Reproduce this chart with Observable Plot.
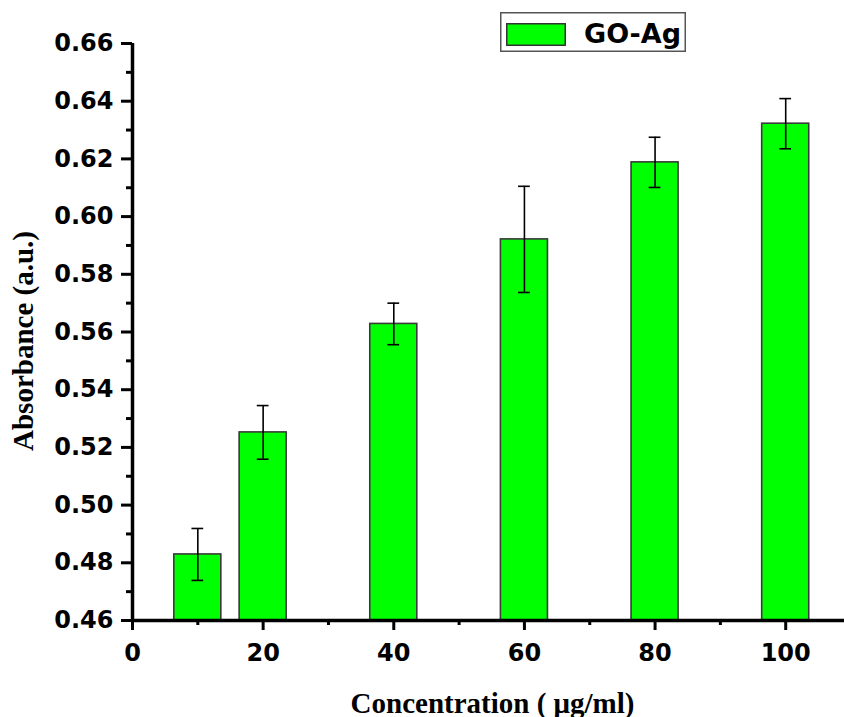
<!DOCTYPE html>
<html>
<head>
<meta charset="utf-8">
<script src="https://cdn.jsdelivr.net/npm/d3@7"></script>
<script src="https://cdn.jsdelivr.net/npm/@observablehq/plot@0.6"></script>
<style>
  body { margin: 0; background: #fff; }
  #chart { position: relative; width: 844px; height: 717px; }
  #legend { position: absolute; left: 0; top: 0; pointer-events: none; }
</style>
</head>
<body>
<div id="chart"></div>
<script>
// Absorbance of GO-Ag at each concentration (µg/ml), with error (±)
const concentrations = [10, 20, 40, 60, 80, 100];
const absorbance = [0.4829, 0.5252, 0.5628, 0.5921, 0.6188, 0.6322];
const errors = [0.0090, 0.0093, 0.0072, 0.0184, 0.0087, 0.0087];
const seriesName = "GO-Ag";

const xMajorTicks = [0, 20, 40, 60, 80, 100];
const xMinorTicks = [10, 30, 50, 70, 90];
const yMajorTicks = [0.46, 0.48, 0.50, 0.52, 0.54, 0.56, 0.58, 0.60, 0.62, 0.64, 0.66];
const yMinorTicks = [0.47, 0.49, 0.51, 0.53, 0.55, 0.57, 0.59, 0.61, 0.63, 0.65];

const yMin = 0.46, yMax = 0.66;
const barHalf = 3.6;   // half bar width, in concentration units
const capHalf = 0.9;   // half error-cap width

const data = concentrations.map((c, i) => ({c, v: absorbance[i], e: errors[i]}));

const green = "#00ff00";

const chart = Plot.plot({
  width: 844,
  height: 717,
  marginLeft: 132,
  marginRight: 0,
  marginTop: 43,
  marginBottom: 97,
  style: {fontFamily: "DejaVu Sans", fontWeight: "bold", fontSize: "24px", color: "#000", background: "#fff", overflow: "visible"},
  x: {domain: [0, 109], axis: null},
  y: {domain: [yMin, yMax], axis: null},
  marks: [
    Plot.rect(data, {
      x1: d => d.c - barHalf, x2: d => d.c + barHalf,
      y1: () => yMin, y2: "v",
      fill: green, stroke: "#3a3a3a", strokeWidth: 1.6
    }),
    Plot.ruleX(data, {x: "c", y1: d => d.v - d.e, y2: d => d.v + d.e, stroke: "#000", strokeWidth: 1.6}),
    Plot.ruleY(data, {y: d => d.v + d.e, x1: d => d.c - capHalf, x2: d => d.c + capHalf, stroke: "#000", strokeWidth: 1.6}),
    Plot.ruleY(data, {y: d => d.v - d.e, x1: d => d.c - capHalf, x2: d => d.c + capHalf, stroke: "#000", strokeWidth: 1.6}),
    // axes
    Plot.axisY({ticks: yMajorTicks, tickFormat: d3.format(".2f"), tickSize: 11, tickPadding: 8, strokeWidth: 3, label: null}),
    Plot.axisY({ticks: yMinorTicks, tickSize: 6, text: null, strokeWidth: 3, label: null}),
    Plot.axisX({ticks: xMajorTicks, tickFormat: d3.format("d"), tickSize: 10, tickPadding: 13, strokeWidth: 3, label: null}),
    Plot.axisX({ticks: xMinorTicks, tickSize: 5, text: null, strokeWidth: 3, label: null}),
    Plot.ruleX([0], {stroke: "#000", strokeWidth: 3.5}),
    Plot.ruleY([yMin], {stroke: "#000", strokeWidth: 3.5}),
    // axis titles
    Plot.text(["Concentration ( μg/ml)"], {
      frameAnchor: "bottom", dy: 92, dx: 4, text: d => d, textAnchor: "middle",
      fontFamily: "Liberation Serif", fontWeight: "bold", fontSize: 29, fill: "#000"
    }),
    Plot.text(["Absorbance (a.u.)"], {
      frameAnchor: "left", dx: -109, dy: 9, rotate: -90, text: d => d, textAnchor: "middle",
      fontFamily: "Liberation Serif", fontWeight: "bold", fontSize: 29, fill: "#000"
    })
  ]
});

const host = document.getElementById("chart");
host.appendChild(chart);

// Legend box
const ns = "http://www.w3.org/2000/svg";
const leg = document.createElementNS(ns, "svg");
leg.setAttribute("id", "legend");
leg.setAttribute("width", 844);
leg.setAttribute("height", 717);
leg.innerHTML = `
  <rect x="500.75" y="12.75" width="184.5" height="38.5" fill="#fff" stroke="#555" stroke-width="1.5"/>
  <rect x="506.75" y="23.75" width="58.5" height="21.5" fill="${green}" stroke="#333" stroke-width="1.5"/>
  <text x="584" y="43" font-family="DejaVu Sans" font-weight="bold" font-size="27" fill="#000">${seriesName}</text>`;
host.appendChild(leg);
</script>
</body>
</html>
